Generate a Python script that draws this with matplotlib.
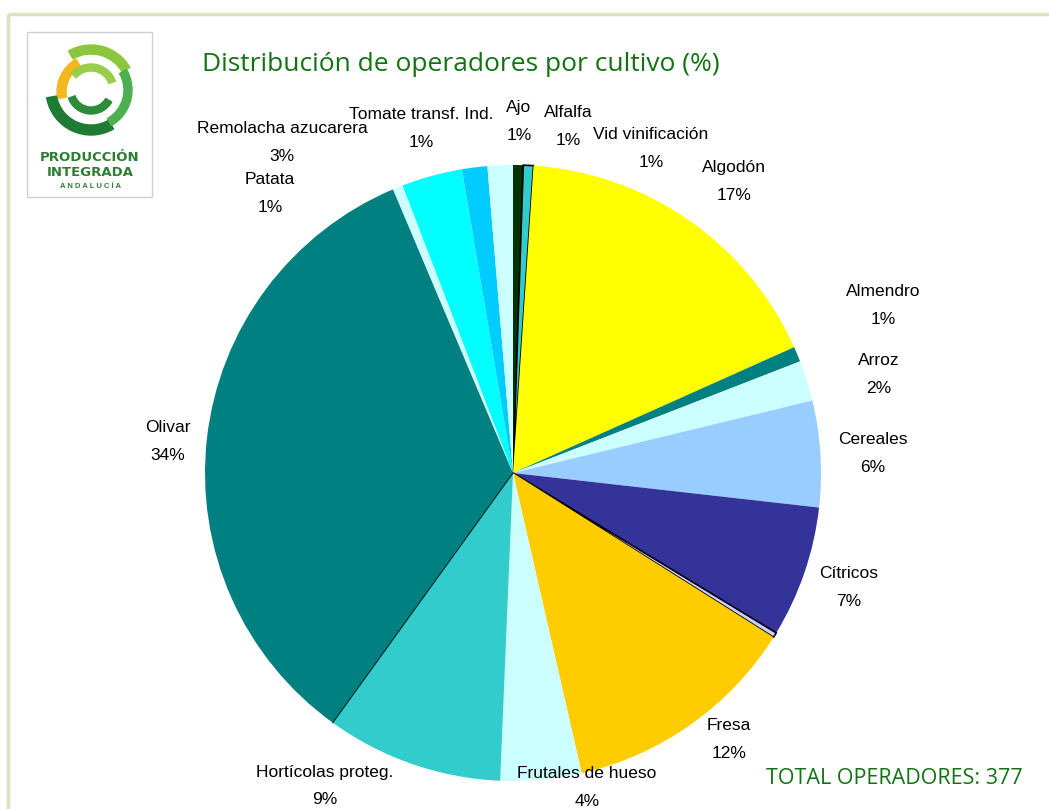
import numpy as np
import matplotlib.pyplot as plt
from matplotlib.patches import Rectangle, Wedge

W, H = 1049, 809

# operators per crop (total 377), clockwise from 12 o'clock
cultivos = ["Ajo", "Alfalfa", "Algodón", "Almendro", "Arroz", "Cereales",
            "Cítricos", "Otros", "Fresa", "Frutales de hueso",
            "Hortícolas proteg.", "Olivar", "Patata", "Remolacha azucarera",
            "Tomate transf. Ind.", "Vid vinificación"]
operadores = [2, 2, 65, 3, 8, 21, 26, 1, 47, 16, 35, 127, 2, 12, 5, 5]
colores = ["#003300", "#33CCCC", "#FFFF00", "#008080", "#CCFFFF", "#99CCFF",
           "#333399", "#CCCCFF", "#FFCC00", "#CCFFFF", "#33CCCC", "#008080",
           "#CCFFFF", "#00FFFF", "#00CCFF", "#CCFFFF"]
# label positions in pixels (x, y of name line), None = no label
pos_etiquetas = [(519, 107), (568, 112), (734, 167), (883, 291), (879, 360),
                 (873, 439), (849, 574), None, (729, 725), (587, 773),
                 (325, 772), (168, 427), (270, 179), (282, 128), (421, 114),
                 (651, 134)]

total = sum(operadores)

plt.rcParams['font.family'] = ['Liberation Sans', 'DejaVu Sans']
fig = plt.figure(figsize=(W / 100, H / 100), dpi=100)
ax = fig.add_axes([0, 0, 1, 1])

centro = (513, H - 473)
radio = 308
wedges, _ = ax.pie(operadores, colors=colores, startangle=90,
                   counterclock=False, center=centro, radius=radio,
                   wedgeprops=dict(linewidth=0), frame=False)
for i in (1, 7):
    wedges[i].set_edgecolor("black")
    wedges[i].set_linewidth(1.2)

# thin dark line between Hortícolas and Olivar
ang = np.deg2rad(wedges[11].theta2)
ax.plot([centro[0], centro[0] + radio * np.cos(ang)],
        [centro[1], centro[1] + radio * np.sin(ang)], color="#002222", lw=0.8)

for nombre, n, p in zip(cultivos, operadores, pos_etiquetas):
    if p is None:
        continue
    pct = int(100 * n / total + 0.5)
    ax.text(p[0], H - p[1], nombre, ha="center", va="center", fontsize=12.5)
    ax.text(p[0], H - p[1] - 28, f"{pct}%", ha="center", va="center",
            fontsize=12.5)

ax.text(461, H - 64, "Distribución de operadores por cultivo (%)",
        ha="center", va="center", fontsize=19, color="#127312",
        family=["Open Sans", "DejaVu Sans"])
ax.text(894, H - 778, f"TOTAL OPERADORES: {total}", ha="center", va="center",
        fontsize=15.5, color="#127312", family=["Open Sans", "DejaVu Sans"])

# frame lines
ax.plot([8, W], [H - 14, H - 14], color="#d7e4bd", lw=2.5, solid_capstyle="butt")
ax.plot([8, 8], [H - 14, 0], color="#d7e4bd", lw=2.5, solid_capstyle="butt")

# logo
ax.add_patch(Rectangle((27, H - 197), 125, 165, facecolor="white",
                       edgecolor="#d0d0d0", lw=1))
cx, cy = 91, H - 90
ax.add_patch(Wedge((cx, cy), 45, 30, 120, width=9, color="#8cc63f"))
ax.add_patch(Wedge((cx + 4, cy - 2), 38, 120, 190, width=9, color="#f4b81c"))
ax.add_patch(Wedge((cx, cy), 45, 190, 300, width=10, color="#1e7b34"))
ax.add_patch(Wedge((cx, cy), 41, 300, 390, width=8, color="#4caf50"))
ax.add_patch(Wedge((cx, cy), 24, 200, 330, width=7, color="#2e8b3a"))
ax.add_patch(Wedge((cx, cy), 26, 20, 140, width=7, color="#9acd4a"))
ax.text(90, H - 157, "PRODUCCIÓN", ha="center", va="center", fontsize=9.5,
        fontweight="bold", color="#2e7d32", family=["DejaVu Sans"])
ax.text(90, H - 172, "INTEGRADA", ha="center", va="center", fontsize=9.5,
        fontweight="bold", color="#2e7d32", family=["DejaVu Sans"])
ax.text(90, H - 186, "A N D A L U C Í A", ha="center", va="center",
        fontsize=5.5, fontweight="bold", color="#2e7d32")

ax.set_xlim(0, W)
ax.set_ylim(0, H)
ax.set_aspect("auto")
ax.axis("off")

fig.savefig("out.png", dpi=100)
